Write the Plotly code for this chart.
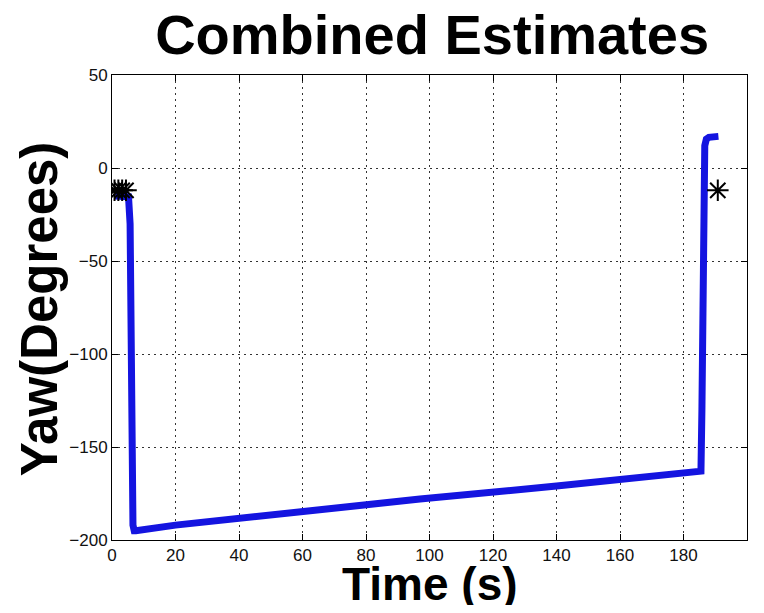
import plotly.graph_objects as go

# yaw estimate trace
time_s = [1.0, 3.0, 5.2, 5.7, 5.9, 6.1, 6.3, 6.6, 7.0, 7.5, 20.0, 59.0, 97.0, 140.0, 185.5,
          185.8, 186.1, 186.4, 186.7, 187.2, 188.0, 191.0]
yaw_deg = [-15.0, -15.0, -15.5, -30.0, -80.0, -130.0, -175.0, -192.0, -195.0, -195.0, -192.0,
           -184.5, -178.0, -171.0, -163.0, -130.0, -60.0, 0.0, 12.0, 15.5, 16.5, 17.0]

# measurement markers
meas_t = [0.8, 2.0, 3.2, 4.4, 190.8]
meas_yaw = [-12.0, -12.0, -12.0, -12.0, -12.0]

x_ticks = list(range(0, 201, 20))
y_ticks = [-200, -150, -100, -50, 0, 50]

_FONT = "Liberation Sans, Arial, sans-serif"

fig = go.Figure()
fig.add_trace(go.Scatter(
    x=time_s, y=yaw_deg, mode="lines",
    line=dict(color="#1414e0", width=7),
    showlegend=False,
))
fig.add_trace(go.Scatter(
    x=meas_t, y=meas_yaw, mode="markers",
    marker=dict(symbol="asterisk-open", size=18, color="black", line=dict(color="black", width=2)),
    showlegend=False,
))

axis_style = dict(
    showline=True, linecolor="black", linewidth=1, mirror="ticks",
    ticks="inside", ticklen=6, tickcolor="black",
    showgrid=True, gridcolor="#333333", griddash="2px,4px", gridwidth=1,
    zeroline=False, automargin=False,
    tickfont=dict(family=_FONT, size=17, color="#111111"),
)

# page body adds 8px, so the figure is 16px smaller than the window
fig.update_layout(
    width=748, height=597,
    paper_bgcolor="white", plot_bgcolor="white",
    margin=dict(l=104, r=9, t=67, b=65),
    title=dict(
        text="<b>Combined Estimates</b>",
        font=dict(family=_FONT, size=56, color="black"),
        x=0.567, xanchor="center", y=0.955, yanchor="middle", automargin=False,
    ),
    xaxis=dict(range=[0, 200], tickvals=x_ticks, **axis_style),
    yaxis=dict(range=[-200, 50], tickvals=y_ticks, **axis_style),
    annotations=[
        dict(text="<b>Time (s)</b>", x=0.5, y=-0.094, xref="paper", yref="paper",
             xanchor="center", yanchor="middle", showarrow=False,
             font=dict(family=_FONT, size=46, color="black")),
        dict(text="<b>Yaw(Degrees)</b>", x=-0.113, y=0.497, xref="paper", yref="paper",
             xanchor="center", yanchor="middle", showarrow=False, textangle=-90,
             font=dict(family=_FONT, size=51, color="black")),
    ],
)

fig.write_html("out.html")
